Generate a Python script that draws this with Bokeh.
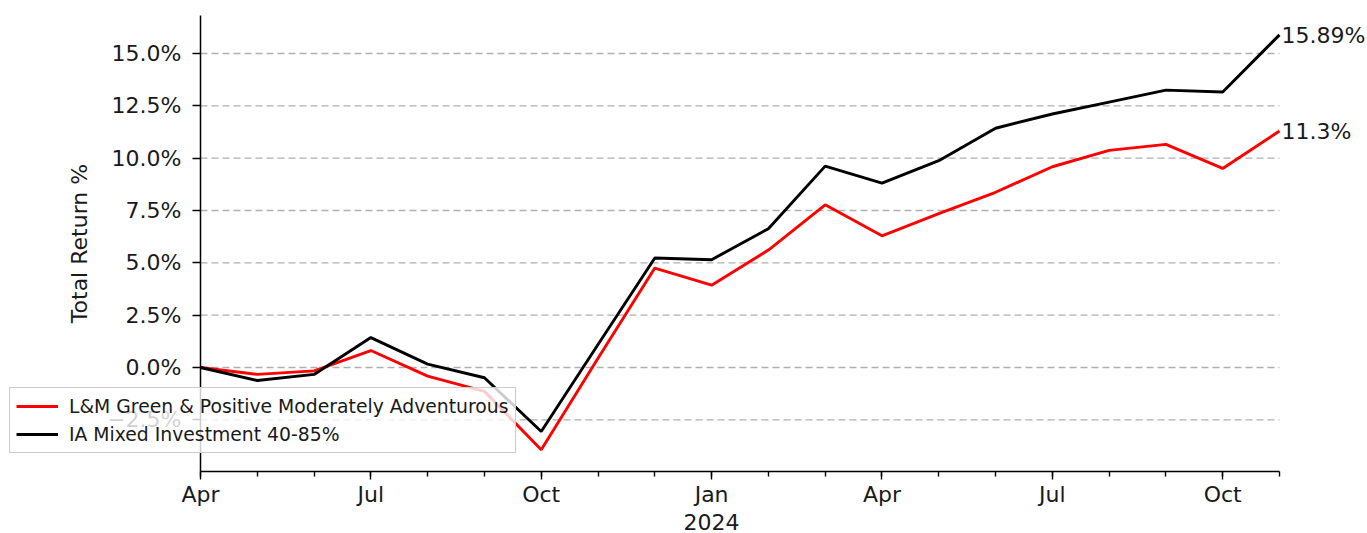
from bokeh.plotting import figure
from bokeh.models import Range1d, FixedTicker, Legend, LegendItem, ColumnDataSource
from bokeh.core.properties import value
from bokeh.embed import file_html
from bokeh.resources import INLINE

# ---- data ----
months = ["2023-04", "2023-05", "2023-06", "2023-07", "2023-08", "2023-09", "2023-10",
          "2023-11", "2023-12", "2024-01", "2024-02", "2024-03", "2024-04", "2024-05",
          "2024-06", "2024-07", "2024-08", "2024-09", "2024-10", "2024-11"]
fund = [0.0, -0.33, -0.16, 0.81, -0.41, -1.14, -3.93, 0.44, 4.75, 3.93, 5.61, 7.77,
        6.29, 7.35, 8.37, 9.59, 10.37, 10.66, 9.51, 11.3]
sector = [0.0, -0.62, -0.33, 1.43, 0.16, -0.49, -3.06, 1.10, 5.23, 5.15, 6.63, 9.62,
          8.81, 9.88, 11.43, 12.11, 12.68, 13.25, 13.16, 15.89]
fund_name = "L&M Green & Positive Moderately Adventurous"
sector_name = "IA Mixed Investment 40-85%"
xtick_pos = [0, 3, 6, 9, 12, 15, 18]
xtick_labels = ["Apr", "Jul", "Oct", "Jan\n2024", "Apr", "Jul", "Oct"]
yticks = [-2.5, 0.0, 2.5, 5.0, 7.5, 10.0, 12.5, 15.0]
ytick_labels = ["\u22122.5%", "0.0%", "2.5%", "5.0%", "7.5%", "10.0%", "12.5%", "15.0%"]
y_lo, y_hi = -4.968, 16.815   # axis extent

# ---- layout (pixels) ----
W, H = 1367, 533
AX_L, AX_R, AX_T, AX_B = 200, 1279, 15, 471
FONT = "DejaVu Sans"
FS = "22px"
n = len(months)
xs = list(range(n))
mpp = (n - 1) / (AX_R - AX_L)
ypp = (y_hi - y_lo) / (AX_B - AX_T)
x_range = Range1d(-AX_L * mpp, (n - 1) + (W - AX_R) * mpp)
y_range = Range1d(y_lo - (H - AX_B) * ypp, y_hi + AX_T * ypp)

src = ColumnDataSource(dict(x=xs, fund=fund, sector=sector))

p = figure(width=W, height=H, output_backend="svg", toolbar_location=None,
           x_range=x_range, y_range=y_range,
           min_border_left=0, min_border_right=0, min_border_top=0, min_border_bottom=0)
p.outline_line_color = None
p.background_fill_color = "white"
p.xgrid.visible = False
p.ygrid.visible = False

# horizontal dashed grid lines at the y ticks, spanning the axis extent
p.segment(x0=[0] * len(yticks), x1=[n - 1] * len(yticks), y0=yticks, y1=yticks,
          line_color="#b0b0b0", line_width=1.3, line_dash="7 4", level="underlay")

r1 = p.line("x", "fund", source=src, line_color="#ff0000", line_width=2.9)
r2 = p.line("x", "sector", source=src, line_color="#000000", line_width=2.9)

# axes
xa = p.xaxis[0]
xa.ticker = FixedTicker(ticks=xtick_pos, minor_ticks=xs)
xa.major_label_overrides = {t: l for t, l in zip(xtick_pos, xtick_labels)}
xa.fixed_location = y_lo
xa.bounds = (0, n - 1)
ya = p.yaxis[0]
ya.ticker = FixedTicker(ticks=yticks, minor_ticks=[])
ya.major_label_overrides = {t: l for t, l in zip(yticks, ytick_labels)}
ya.fixed_location = 0
ya.bounds = (y_lo, y_hi)
ya.axis_label = "Total Return %"
for ax in (xa, ya):
    ax.axis_line_color = "black"
    ax.axis_line_width = 1.5
    ax.major_tick_line_color = "black"
    ax.major_tick_line_width = 1.4
    ax.minor_tick_line_color = "black"
    ax.minor_tick_line_width = 1.4
    ax.major_tick_in = 0
    ax.minor_tick_in = 0
    ax.major_tick_out = 8
    ax.major_label_text_font = FONT
    ax.major_label_text_font_size = FS
    ax.major_label_text_color = "#1a1a1a"
xa.minor_tick_out = 5
xa.major_label_standoff = 2
xa.major_label_text_line_height = 1.12
ya.minor_tick_out = 0
ya.major_label_standoff = 11
ya.axis_label_text_font = FONT
ya.axis_label_text_font_size = FS
ya.axis_label_text_font_style = "normal"
ya.axis_label_text_color = "#1a1a1a"
ya.axis_label_standoff = 12

# end labels
p.text(x=[xs[-1], xs[-1]], y=[sector[-1], fund[-1]],
       text=[f"{sector[-1]}%", f"{fund[-1]}%"],
       text_font=value(FONT), text_font_size=FS, text_color="#1a1a1a",
       text_baseline="alphabetic", text_align="left", x_offset=2, y_offset=1)

legend = Legend(items=[LegendItem(label=fund_name, renderers=[r1]),
                       LegendItem(label=sector_name, renderers=[r2])],
                location=(9, H - 453), orientation="vertical",
                label_text_font=FONT, label_text_font_size="18.8px", label_text_color="#1a1a1a",
                glyph_width=42, glyph_height=24, label_height=24, label_standoff=11,
                spacing=4, padding=6, margin=0,
                background_fill_color="white", background_fill_alpha=0.8,
                border_line_color="#cccccc", border_line_width=1.5, border_line_alpha=1.0)
p.add_layout(legend, "center")

open("out.html", "w").write(file_html(p, INLINE))
